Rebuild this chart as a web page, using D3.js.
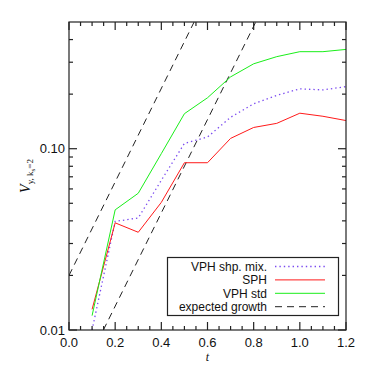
<!DOCTYPE html>
<html>
<head>
<meta charset="utf-8">
<script src="https://cdn.jsdelivr.net/npm/d3@7"></script>
<style>
html,body{margin:0;padding:0;background:#fff;}
svg{display:block;}
</style>
</head>
<body>
<svg id="chart" width="374" height="374"></svg>
<script>
// ---- data ----
const times = [0.1,0.2,0.3,0.4,0.5,0.6,0.7,0.8,0.9,1.0,1.1,1.2];
const vphMix = [0.0100,0.0397,0.0415,0.067,0.107,0.116,0.149,0.177,0.197,0.214,0.211,0.220];
const sph    = [0.0130,0.0390,0.0346,0.0506,0.0837,0.0837,0.114,0.131,0.138,0.157,0.151,0.143];
const vphStd = [0.0120,0.0460,0.0568,0.094,0.156,0.191,0.249,0.294,0.322,0.343,0.343,0.353];
const growthA_t = [0.0, 0.542];
const growthA_v = [0.020, 0.50];
const growthB_t = [0.149, 0.809];
const growthB_v = [0.010, 0.50];
const xTicks = [0.0,0.2,0.4,0.6,0.8,1.0,1.2];
const xTickLabels = ["0.0","0.2","0.4","0.6","0.8","1.0","1.2"];
const yTicks = [0.01,0.1];
const yTickLabels = ["0.01","0.10"];
const legendLabels = ["VPH shp. mix.","SPH","VPH std","expected growth"];

(function(){
// ---- layout ----
const W=374,H=374, mL=69, mR=28, mT=22, mB=44;
const svg = d3.select("#chart");
const x = d3.scaleLinear().domain([0,1.2]).range([mL, W-mR]);
const y = d3.scaleLog().domain([0.01,0.5]).range([H-mB, mT]);
const axisColor = "#222";
const font = "'Liberation Sans', Arial, Helvetica, sans-serif";

svg.append("clipPath").attr("id","clip").append("rect")
  .attr("x",mL).attr("y",mT).attr("width",W-mR-mL).attr("height",H-mB-mT);

const plot = svg.append("g").attr("clip-path","url(#clip)");
const line = d3.line().x(d=>x(d[0])).y(d=>y(d[1]));

const series = [
  {vals: vphMix, color:"#7a4af0", dash:"1.4,3", width:1.3},
  {vals: sph, color:"#ff1a1a", dash:null, width:1},
  {vals: vphStd, color:"#1aee1a", dash:null, width:1},
];
[[growthA_t,growthA_v],[growthB_t,growthB_v]].forEach(g=>{
  plot.append("path").datum(g[0].map((t,i)=>[t,g[1][i]]))
    .attr("d",line).attr("fill","none").attr("stroke","#222")
    .attr("stroke-width",1).attr("stroke-dasharray","7,5");
});
series.forEach(s=>{
  plot.append("path").datum(times.map((t,i)=>[t,s.vals[i]]))
    .attr("d",line).attr("fill","none").attr("stroke",s.color)
    .attr("stroke-width",s.width).attr("stroke-dasharray",s.dash);
});

// ---- axes (ticks inward, mirrored) ----
const xMinor = d3.range(0,1.2001,0.05).map(v=>+v.toFixed(2));
const yMinor = [0.02,0.03,0.04,0.05,0.06,0.07,0.08,0.09,0.2,0.3,0.4];
const ax = svg.append("g").attr("stroke",axisColor).attr("stroke-width",1.2);
const pB = H-mB, pT=mT, pL=mL, pR=W-mR;
function tick(x1,y1,x2,y2){ax.append("line").attr("x1",x1).attr("y1",y1).attr("x2",x2).attr("y2",y2);}
xMinor.forEach(v=>{
  const isMajor = xTicks.some(t=>Math.abs(t-v)<1e-6);
  const L = isMajor?8:4;
  const px = x(v);
  tick(px,pB,px,pB-L);
  tick(px,pT,px,pT+L);
});
yTicks.concat(yMinor).forEach(v=>{
  const L = yTicks.includes(v)?8:4;
  const py = y(v);
  tick(pL,py,pL+L,py);
  tick(pR,py,pR-L,py);
});
ax.append("rect").attr("x",pL).attr("y",pT).attr("width",pR-pL).attr("height",pB-pT)
  .attr("fill","none");

// tick labels
svg.append("g").selectAll("text").data(xTicks).join("text")
  .attr("x",d=>x(d)).attr("y",pB+17).attr("text-anchor","middle")
  .attr("font-family",font).attr("font-size",13).attr("fill","#111")
  .text((d,i)=>xTickLabels[i]);
svg.append("g").selectAll("text").data(yTicks).join("text")
  .attr("x",pL-4).attr("y",d=>y(d)).attr("dy","0.36em").attr("text-anchor","end")
  .attr("font-family",font).attr("font-size",13).attr("fill","#111")
  .text((d,i)=>yTickLabels[i]);

// axis titles
svg.append("text").attr("x",(pL+pR)/2).attr("y",pB+31)
  .attr("text-anchor","middle").attr("font-family","'Liberation Serif', 'Times New Roman', serif")
  .attr("font-style","italic").attr("font-size",12).attr("fill","#111").text("t");
const yl = svg.append("text").attr("transform","translate(30,176) rotate(-90)")
  .attr("text-anchor","middle").attr("font-family","'Liberation Serif', 'Times New Roman', serif")
  .attr("fill","#111");
yl.append("tspan").attr("font-style","italic").attr("font-size",14).text("V");
yl.append("tspan").attr("font-size",9).attr("dy",3).text("y, k");
yl.append("tspan").attr("font-size",7).attr("dy",2).text("s");
yl.append("tspan").attr("font-size",9).attr("dy",-2).text("=2");

// ---- legend ----
const lg = svg.append("g");
lg.append("rect").attr("x",167.5).attr("y",257.5).attr("width",171).attr("height",58)
  .attr("fill","#fff").attr("stroke",axisColor).attr("stroke-width",1.2);
const legendStyles = [
  {color:"#7a4af0", dash:"1.4,3", width:1.3},
  {color:"#ff1a1a", dash:null, width:1},
  {color:"#1aee1a", dash:null, width:1},
  {color:"#222", dash:"7,5", width:1},
];
legendLabels.forEach((lab,i)=>{
  const cy = 266.5 + i*13.4;
  lg.append("text").attr("x",267).attr("y",cy).attr("dy","0.36em").attr("text-anchor","end")
    .attr("font-family",font).attr("font-size",12).attr("textLength",null).attr("fill","#111").text(lab);
  lg.append("line").attr("x1",275).attr("x2",325).attr("y1",cy).attr("y2",cy)
    .attr("stroke",legendStyles[i].color).attr("stroke-width",legendStyles[i].width)
    .attr("stroke-dasharray",legendStyles[i].dash);
});
})();
</script>
</body>
</html>
